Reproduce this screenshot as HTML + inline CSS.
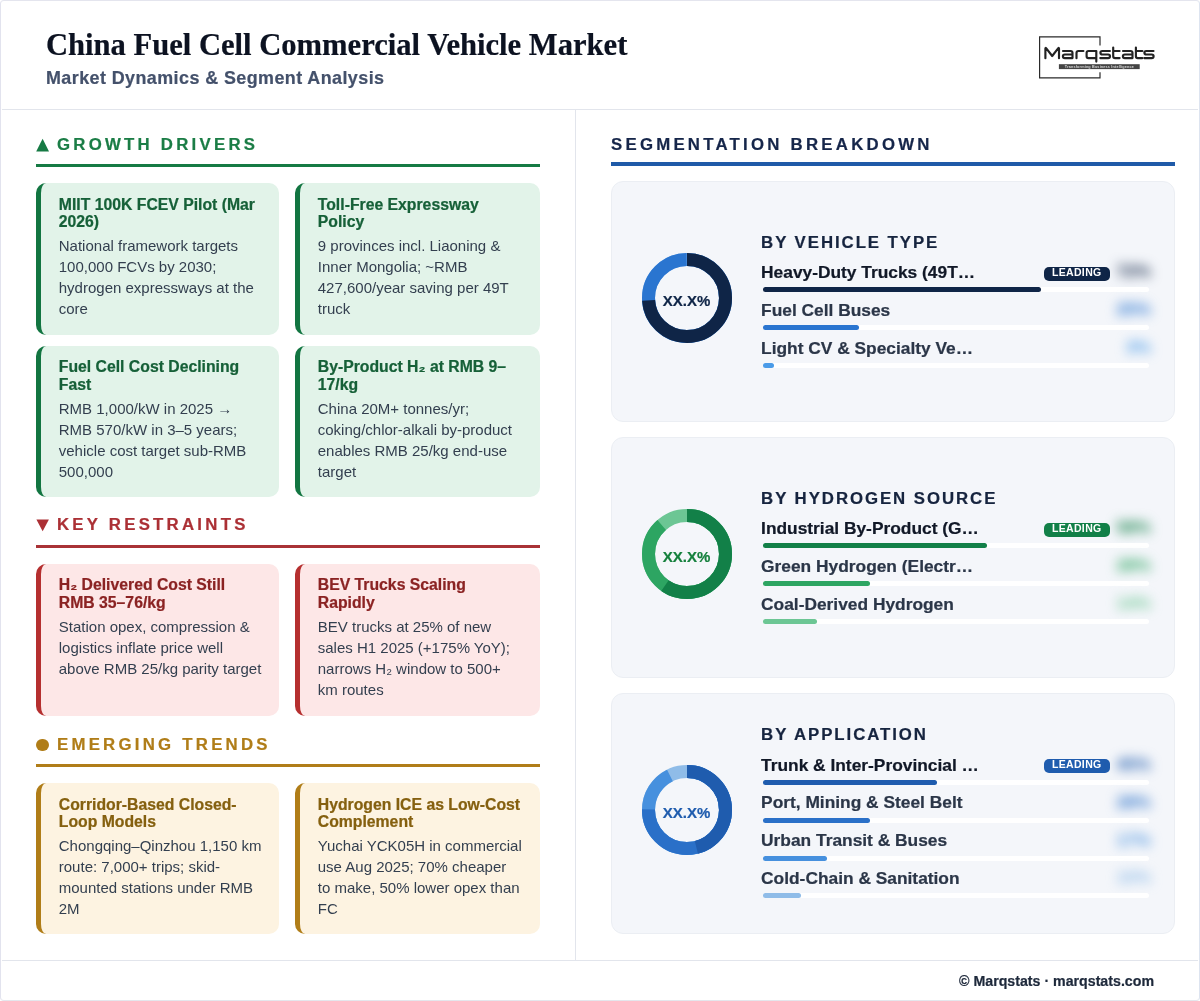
<!DOCTYPE html>
<html lang="en">
<head>
<meta charset="utf-8">
<title>China Fuel Cell Commercial Vehicle Market</title>
<style>
*{box-sizing:border-box;margin:0;padding:0}
html,body{width:1200px;height:1001px;background:#fff;overflow:hidden}
body{font-family:"Liberation Sans",sans-serif;position:relative;color:#334155}
.frame{position:absolute;left:0;top:0;width:1200px;height:1001px;border:1.9px solid;border-color:#e4e5ee #dde4f0 #e4e6ec #e2e3ee;border-radius:4px;pointer-events:none;z-index:5}
.abs{position:absolute}
h1,.sub,.sh,.card h3,.sgh,.lb,.ftr,.dtx{-webkit-text-stroke:.22px currentColor}
/* header */
.hdr-line{left:2px;top:109px;width:1196px;height:1px;background:#e2e5ec}
h1{position:absolute;left:45.9px;top:26.5px;font-family:"Liberation Serif",serif;font-weight:700;font-size:30.6px;line-height:36px;color:#0c1221;white-space:nowrap;letter-spacing:0}
.sub{position:absolute;left:46px;top:66.5px;font-weight:700;font-size:17.9px;line-height:22px;color:#44516b;white-space:nowrap;letter-spacing:.44px}
/* dividers */
.vline{left:575px;top:110px;width:1px;height:851px;background:#e2e5ec}
.ftr-line{left:2px;top:960.2px;width:1196px;height:1px;background:#e2e5ec}
.ftr{position:absolute;right:46px;top:972px;font-weight:700;font-size:14.2px;line-height:18px;color:#1e293b;white-space:nowrap}
/* section headings */
.sh{position:absolute;font-weight:700;font-size:16.8px;line-height:20px;letter-spacing:3.25px;white-space:nowrap}
.rule{position:absolute;height:3.3px}
.ico{position:absolute}
/* driver cards */
.card{position:absolute;border-left:5px solid;border-radius:10px;padding:12.6px 10px 0 17.6px;overflow:hidden}
.card h3{font-size:15.77px;line-height:17.5px;font-weight:700;white-space:nowrap}
.card p{white-space:nowrap;margin-top:5.4px;font-size:15px;line-height:20.95px;color:#333f4f}
.g .card{background:#e2f3e9;border-color:#127541}
.g .card h3{color:#166038}
.r .card{background:#fde7e7;border-color:#b52f2f}
.r .card h3{color:#8b2323}
.t .card{background:#fdf3e1;border-color:#b07d18}
.t .card h3{color:#85600f}
.c1{left:36.2px;width:242.4px}
.c2{left:295.2px;width:244.8px}
/* segmentation */
.seg{position:absolute;left:611.2px;width:563.5px;height:241.3px;background:#f4f6fa;border:1px solid #ebeef3;border-radius:12px}
.donut{position:absolute;left:28.6px;top:70px;width:92px;height:92px}
.dtx{position:absolute;left:28.4px;width:92px;text-align:center;top:110px;font-weight:700;font-size:15px;line-height:18px;white-space:nowrap}
.sgh{position:absolute;left:148.9px;font-weight:700;font-size:16.8px;line-height:20px;letter-spacing:1.95px;color:#16243f;white-space:nowrap}
.row{position:absolute;left:149.4px;width:389.4px;height:38px}
.row .lb{position:absolute;left:-.5px;top:0;font-weight:700;font-size:17.35px;line-height:22px;color:#2b3648;white-space:nowrap}
.row.first .lb{color:#111827}
.row .trk{position:absolute;left:1.5px;top:26.6px;width:385.9px;height:4.8px;border-radius:3px;background:#fff}
.row .fill{position:absolute;left:0;top:0;height:4.8px;border-radius:3px}
.row .badge{position:absolute;left:282px;top:5.7px;width:66px;height:14px;border-radius:5px;color:#fff;font-weight:700;font-size:10.5px;letter-spacing:.35px;text-indent:.35px;line-height:11.9px;text-align:center}
.row .val{position:absolute;right:0;top:-0.7px;font-weight:700;font-size:17.25px;line-height:22px;filter:blur(6px);white-space:nowrap}
</style>
</head>
<body>
<div id="page" style="position:absolute;left:0;top:0;width:1200px;height:1001px;will-change:transform">
<div class="frame"></div>

<h1>China Fuel Cell Commercial Vehicle Market</h1>
<div class="sub">Market Dynamics &amp; Segment Analysis</div>
<div class="abs hdr-line"></div>
<div class="abs vline"></div>
<div class="abs ftr-line"></div>
<div class="ftr">© Marqstats · marqstats.com</div>

<!-- LOGO -->
<svg class="abs" style="left:1030px;top:28px" width="140" height="60" viewBox="0 0 140 60" id="logo">
<path d="M70,17.6 V8.8 H9.6 V49.9 H70 V44.2" fill="none" stroke="#2a2a2a" stroke-width="1.2"/>
<g fill="none" stroke="#222" stroke-width="2.15" stroke-linecap="round" stroke-linejoin="round">
<path d="M15.4,30.2 V20.6 Q15.4,19.4 16.3,20.4 L22.2,28 L28.1,20.4 Q29,19.4 29,20.6 V30.2"/>
<path d="M33,23 H40.6 Q42.5,23 42.5,24.9 V30.1 H34.8 Q32.9,30.1 32.9,28.3 Q32.9,26.5 34.8,26.5 H42.5"/>
<path d="M46.5,30.2 V24.9 Q46.5,23 48.4,23 H53.4"/>
<path d="M66.3,33.6 V23 H58.5 Q56.6,23 56.6,24.9 V28.2 Q56.6,30.1 58.5,30.1 H66.3"/>
<path d="M79.9,23 H72.3 Q70.4,23 70.4,24.75 Q70.4,26.5 72.3,26.5 H78.1 Q80,26.5 80,28.3 Q80,30.1 78.1,30.1 H70.3"/>
<path d="M83.2,19.6 V28.2 Q83.2,30.1 85.1,30.1 H89.6 M83.2,23 H89.6"/>
<path d="M93,23 H100.6 Q102.5,23 102.5,24.9 V30.1 H94.8 Q92.9,30.1 92.9,28.3 Q92.9,26.5 94.8,26.5 H102.5"/>
<path d="M105.9,19.6 V28.2 Q105.9,30.1 107.8,30.1 H112.4 M105.9,23 H112.4"/>
<path d="M123.5,23 H116.3 Q114.4,23 114.4,24.75 Q114.4,26.5 116.3,26.5 H121.7 Q123.6,26.5 123.6,28.3 Q123.6,30.1 121.7,30.1 H114.3"/>
</g>
<rect x="28.9" y="36.2" width="80.8" height="4.9" fill="#444"/>
<text x="69.3" y="39.9" text-anchor="middle" style="font-family:'Liberation Sans',sans-serif" font-weight="700" font-size="3.75" fill="#d8d8d8" textLength="69" lengthAdjust="spacing">Transforming Business Intelligence</text>
</svg>

<!-- GROWTH -->
<div class="g">
<svg class="ico" style="left:36px;top:138px" width="14" height="14"><polygon points="0.2,13.5 6.6,0.7 13,13.5" fill="#167a44"/></svg>
<div class="sh" style="left:57px;top:135.2px;color:#1b7d46">GROWTH DRIVERS</div>
<div class="rule" style="left:36.2px;top:164.1px;width:503.8px;background:#167a44"></div>
<div class="card c1" style="top:183px;height:151.6px"><h3>MIIT 100K FCEV Pilot (Mar<br>2026)</h3><p>National framework targets<br>100,000 FCVs by 2030;<br>hydrogen expressways at the<br>core</p></div>
<div class="card c2" style="top:183px;height:151.6px"><h3>Toll-Free Expressway<br>Policy</h3><p>9 provinces incl. Liaoning &amp;<br>Inner Mongolia; ~RMB<br>427,600/year saving per 49T<br>truck</p></div>
<div class="card c1" style="top:345.8px;height:150.8px"><h3>Fuel Cell Cost Declining<br>Fast</h3><p>RMB 1,000/kW in 2025 →<br>RMB 570/kW in 3–5 years;<br>vehicle cost target sub-RMB<br>500,000</p></div>
<div class="card c2" style="top:345.8px;height:150.8px"><h3>By-Product H₂ at RMB 9–<br>17/kg</h3><p>China 20M+ tonnes/yr;<br>coking/chlor-alkali by-product<br>enables RMB 25/kg end-use<br>target</p></div>
</div>

<!-- RESTRAINTS -->
<div class="r">
<svg class="ico" style="left:36px;top:519px" width="14" height="14"><polygon points="0.4,0.4 12.9,0.4 6.65,12.3" fill="#ab3035"/></svg>
<div class="sh" style="left:57px;top:515.3px;color:#ab3035">KEY RESTRAINTS</div>
<div class="rule" style="left:36.2px;top:544.7px;width:503.8px;background:#a93236"></div>
<div class="card c1" style="top:563.8px;height:152.4px"><h3>H₂ Delivered Cost Still<br>RMB 35–76/kg</h3><p>Station opex, compression &amp;<br>logistics inflate price well<br>above RMB 25/kg parity target</p></div>
<div class="card c2" style="top:563.8px;height:152.4px"><h3>BEV Trucks Scaling<br>Rapidly</h3><p>BEV trucks at 25% of new<br>sales H1 2025 (+175% YoY);<br>narrows H₂ window to 500+<br>km routes</p></div>
</div>

<!-- TRENDS -->
<div class="t">
<div class="ico" style="left:36.2px;top:738.7px;width:12.8px;height:12.8px;border-radius:50%;background:#b07d18"></div>
<div class="sh" style="left:57px;top:735.2px;color:#b07d18">EMERGING TRENDS</div>
<div class="rule" style="left:36.2px;top:763.8px;width:503.8px;background:#b07d18"></div>
<div class="card c1" style="top:783.1px;height:151px"><h3>Corridor-Based Closed-<br>Loop Models</h3><p>Chongqing–Qinzhou 1,150 km<br>route: 7,000+ trips; skid-<br>mounted stations under RMB<br>2M</p></div>
<div class="card c2" style="top:783.1px;height:151px"><h3>Hydrogen ICE as Low-Cost<br>Complement</h3><p>Yuchai YCK05H in commercial<br>use Aug 2025; 70% cheaper<br>to make, 50% lower opex than<br>FC</p></div>
</div>

<!-- SEGMENTATION -->
<div class="sh" style="left:611px;top:135.2px;color:#16264a">SEGMENTATION BREAKDOWN</div>
<div class="rule" style="left:611.2px;top:162.4px;width:563.5px;height:3.5px;background:#1f5aa8"></div>

<div class="seg" id="seg1" style="top:181.2px"><svg class="donut" viewBox="0 0 92 92"><g transform="rotate(-90 46 46)" fill="none" stroke-width="13"><circle cx="46" cy="46" r="38.5" stroke="#7fb5ee"/><circle cx="46" cy="46" r="38.5" stroke="#2a75d0" stroke-dasharray="241.23 241.90"/><circle cx="46" cy="46" r="38.5" stroke="#0f2547" stroke-dasharray="178.74 241.90"/></g></svg><div class="dtx" style="color:#0f2547">XX.X%</div><div class="sgh" style="top:50.5px">BY VEHICLE TYPE</div><div class="row first" style="top:78.70px"><span class="lb">Heavy-Duty Trucks (49T…</span><span class="badge" style="background:#0f2547">LEADING</span><span class="val" style="color:#0f2547">72%</span><div class="trk"><div class="fill" style="width:277.5px;background:#0f2547"></div></div></div><div class="row" style="top:116.55px"><span class="lb">Fuel Cell Buses</span><span class="val" style="color:#2a75d0">25%</span><div class="trk"><div class="fill" style="width:96.3px;background:#2a75d0"></div></div></div><div class="row" style="top:154.40px"><span class="lb">Light CV &amp; Specialty Ve…</span><span class="val" style="color:#4a9be8">3%</span><div class="trk"><div class="fill" style="width:10.5px;background:#4a9be8"></div></div></div></div>
<div class="seg" id="seg2" style="top:437.2px"><svg class="donut" viewBox="0 0 92 92"><g transform="rotate(-90 46 46)" fill="none" stroke-width="13"><circle cx="46" cy="46" r="38.5" stroke="#6cc694"/><circle cx="46" cy="46" r="38.5" stroke="#2da562" stroke-dasharray="213.95 241.90"/><circle cx="46" cy="46" r="38.5" stroke="#128048" stroke-dasharray="144.20 241.90"/></g></svg><div class="dtx" style="color:#15803d">XX.X%</div><div class="sgh" style="top:50.5px">BY HYDROGEN SOURCE</div><div class="row first" style="top:78.70px"><span class="lb">Industrial By-Product (G…</span><span class="badge" style="background:#128048">LEADING</span><span class="val" style="color:#128048">58%</span><div class="trk"><div class="fill" style="width:224.2px;background:#128048"></div></div></div><div class="row" style="top:116.55px"><span class="lb">Green Hydrogen (Electr…</span><span class="val" style="color:#2da562">28%</span><div class="trk"><div class="fill" style="width:107.3px;background:#2da562"></div></div></div><div class="row" style="top:154.40px"><span class="lb">Coal-Derived Hydrogen</span><span class="val" style="color:#6cc694">14%</span><div class="trk"><div class="fill" style="width:53.5px;background:#6cc694"></div></div></div></div>
<div class="seg" id="seg3" style="top:693.2px"><svg class="donut" viewBox="0 0 92 92"><g transform="rotate(-90 46 46)" fill="none" stroke-width="13"><circle cx="46" cy="46" r="38.5" stroke="#8fbce8"/><circle cx="46" cy="46" r="38.5" stroke="#4690de" stroke-dasharray="223.83 241.90"/><circle cx="46" cy="46" r="38.5" stroke="#2a70c8" stroke-dasharray="181.76 241.90"/><circle cx="46" cy="46" r="38.5" stroke="#1f5cae" stroke-dasharray="111.28 241.90"/></g></svg><div class="dtx" style="color:#1f5cae">XX.X%</div><div class="sgh" style="top:31.3px">BY APPLICATION</div><div class="row first" style="top:59.60px"><span class="lb">Trunk &amp; Inter-Provincial …</span><span class="badge" style="background:#1f5cae">LEADING</span><span class="val" style="color:#1f5cae">45%</span><div class="trk"><div class="fill" style="width:173.5px;background:#1f5cae"></div></div></div><div class="row" style="top:97.30px"><span class="lb">Port, Mining &amp; Steel Belt</span><span class="val" style="color:#2a70c8">28%</span><div class="trk"><div class="fill" style="width:107.3px;background:#2a70c8"></div></div></div><div class="row" style="top:135.00px"><span class="lb">Urban Transit &amp; Buses</span><span class="val" style="color:#4690de">17%</span><div class="trk"><div class="fill" style="width:64.3px;background:#4690de"></div></div></div><div class="row" style="top:172.70px"><span class="lb">Cold-Chain &amp; Sanitation</span><span class="val" style="color:#8fbce8">10%</span><div class="trk"><div class="fill" style="width:37.5px;background:#8fbce8"></div></div></div></div>

</div>
</body>
</html>
